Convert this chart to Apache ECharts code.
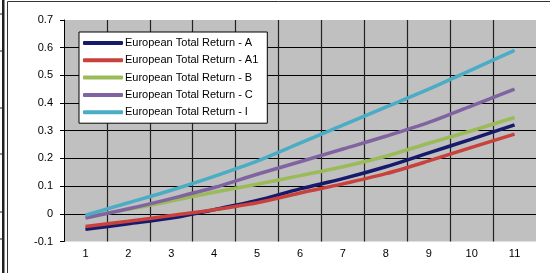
<!DOCTYPE html>
<html>
<head>
<meta charset="utf-8">
<script src="https://cdn.jsdelivr.net/npm/echarts@6/dist/echarts.min.js"></script>
<style>
  html, body { margin: 0; padding: 0; background: #fff; }
  #chart { width: 550px; height: 273px; }
</style>
</head>
<body>
<div id="chart"></div>
<script>
// categories on the x axis
var categories = ['1', '2', '3', '4', '5', '6', '7', '8', '9', '10', '11']
var seriesNames = [
  'European Total Return - A',
  'European Total Return - A1',
  'European Total Return - B',
  'European Total Return - C',
  'European Total Return - I'
]
// values
var returnA = [-0.056, -0.036, -0.015, 0.015, 0.048, 0.09, 0.127, 0.17, 0.22, 0.27, 0.321]
var returnA1 = [-0.046, -0.027, -0.006, 0.015, 0.04, 0.075, 0.108, 0.145, 0.191, 0.24, 0.288]
var returnB = [-0.01, 0.016, 0.046, 0.078, 0.107, 0.138, 0.17, 0.208, 0.255, 0.3, 0.348]
var returnC = [-0.015, 0.018, 0.055, 0.095, 0.143, 0.188, 0.234, 0.28, 0.33, 0.39, 0.45]
var returnI = [-0.005, 0.04, 0.085, 0.135, 0.19, 0.255, 0.32, 0.385, 0.45, 0.52, 0.59]

var colors = ['#17196b', '#c8413d', '#9bbb59', '#8064a2', '#4bacc6']
var allData = [returnA, returnA1, returnB, returnC, returnI]

var font = 'Liberation Sans, Arial, sans-serif'

var myChart = echarts.init(document.getElementById('chart'))

// line series
var series = seriesNames.map(function (name, i) {
  return {
    name: name,
    type: 'line',
    data: allData[i],
    smooth: 0.3,
    showSymbol: false,
    lineStyle: { color: colors[i], width: 3.5 },
    itemStyle: { color: colors[i] }
  }
})

// frame bits at the left/top edge of the picture
var frame = [
  { type: 'line', shape: { x1: 7.5, y1: 1.5, x2: 550, y2: 1.5 }, style: { stroke: '#333', lineWidth: 1 } },
  { type: 'line', shape: { x1: 7.5, y1: 1.5, x2: 7.5, y2: 273 }, style: { stroke: '#333', lineWidth: 1 } },
  { type: 'rect', shape: { x: 2, y: 0, width: 2.5, height: 273 }, style: { fill: '#222' } }
]
var edgeTicks = [14, 51, 108, 154, 212, 239]
edgeTicks.forEach(function (y) {
  frame.push({ type: 'line', shape: { x1: 0, y1: y, x2: 3, y2: y }, style: { stroke: '#222', lineWidth: 1 } })
})

myChart.setOption({
  animation: false,
  backgroundColor: '#fff',
  textStyle: { fontFamily: font },
  graphic: frame,
  legend: {
    orient: 'vertical',
    left: 79,
    top: 32,
    padding: [4, 9, 4, 4],
    backgroundColor: '#fff',
    borderColor: '#000',
    borderWidth: 1,
    borderRadius: 0,
    itemWidth: 40,
    itemHeight: 4,
    itemGap: 3.3,
    icon: 'roundRect',
    textStyle: { fontFamily: font, fontSize: 11, color: '#000', lineHeight: 14, padding: [0, 0, 0, -3] },
    data: seriesNames
  },
  grid: {
    left: 64,
    right: 14,
    top: 20,
    bottom: 31.5,
    show: true,
    backgroundColor: '#c0c0c0',
    borderWidth: 0
  },
  xAxis: {
    type: 'category',
    data: categories,
    boundaryGap: true,
    axisLine: { show: false },
    axisTick: { show: false },
    axisLabel: { color: '#000', fontFamily: font, fontSize: 11, margin: 7 },
    splitLine: {
      show: true,
      showMinLine: false,
      showMaxLine: false,
      lineStyle: { color: '#222', width: 1.2 }
    }
  },
  yAxis: {
    type: 'value',
    min: -0.1,
    max: 0.7,
    interval: 0.1,
    axisLine: { show: true, lineStyle: { color: '#000', width: 1 } },
    axisTick: { show: true, inside: false, length: 4, lineStyle: { color: '#000' } },
    axisLabel: {
      color: '#000',
      fontFamily: font,
      fontSize: 11,
      margin: 11,
      formatter: function (v) { return String(Number(v.toFixed(1))) }
    },
    splitLine: {
      show: true,
      showMinLine: false,
      showMaxLine: false,
      lineStyle: { color: '#000', width: 1 }
    }
  },
  series: series
})
</script>
</body>
</html>
